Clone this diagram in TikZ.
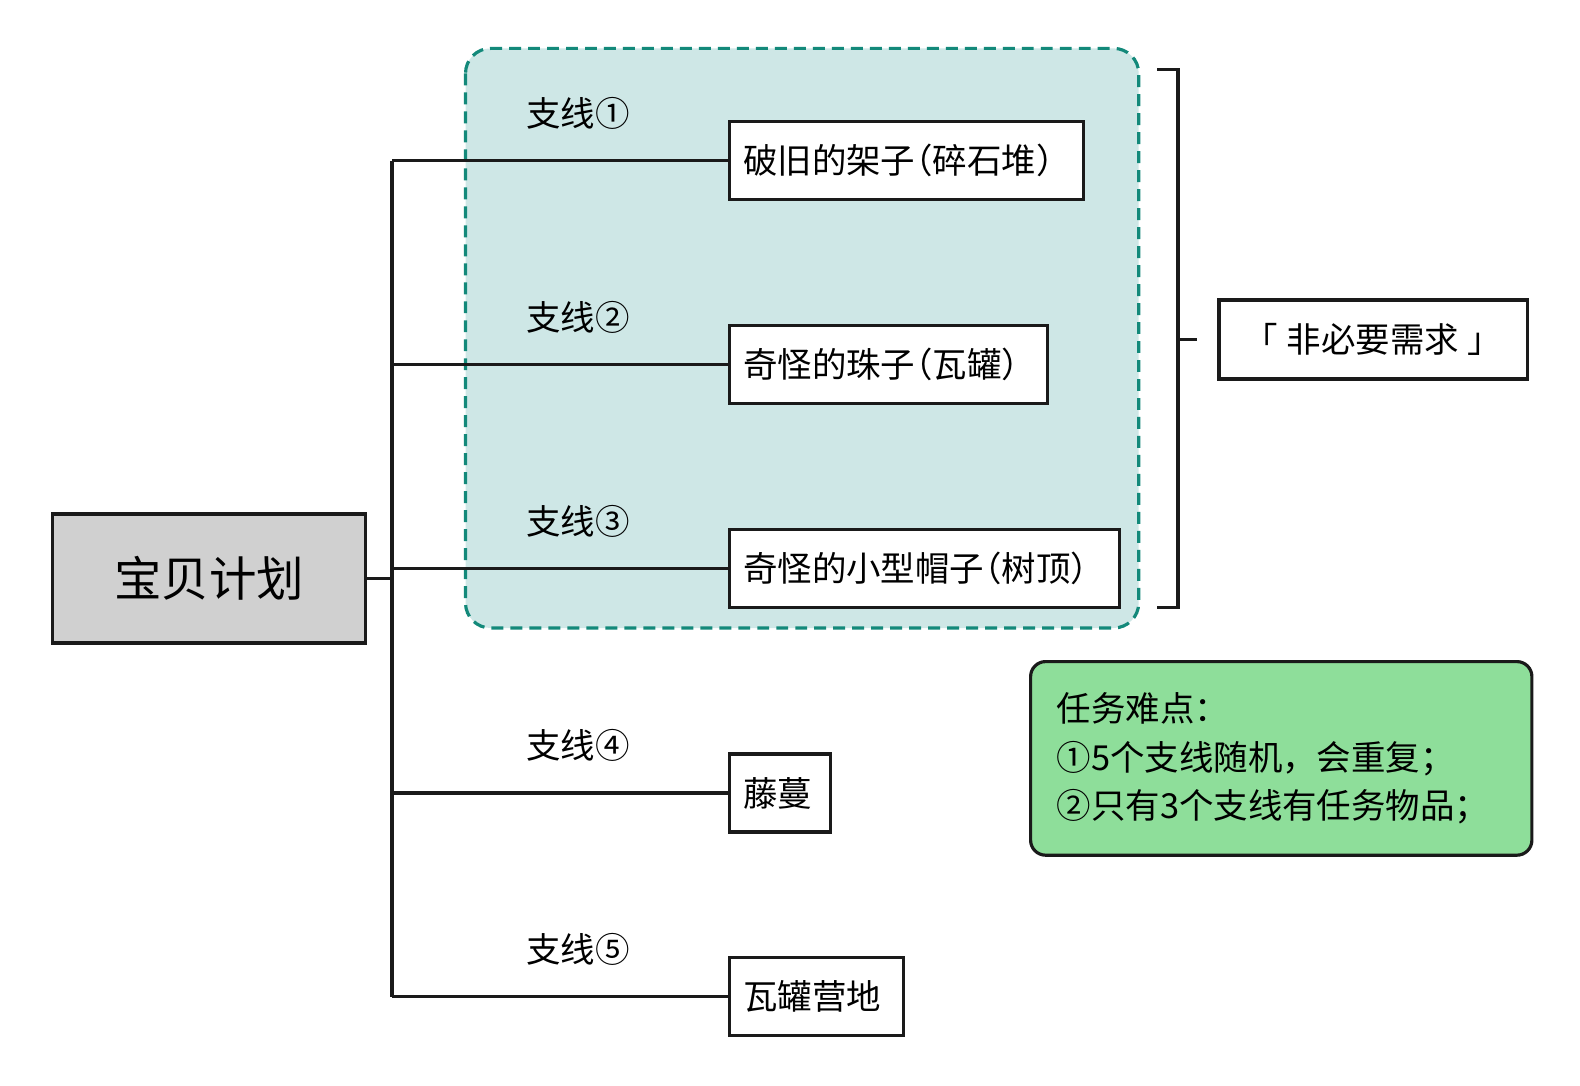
\documentclass[tikz,border=0pt]{standalone}
\usepackage{fontspec}
\setmainfont{Noto Sans CJK SC}
\newfontfamily\leaffont[RawFeature=+halt]{Noto Sans CJK SC}
\definecolor{tealline}{HTML}{13897A}
\definecolor{tealfill}{HTML}{CEE7E6}
\definecolor{notegreen}{HTML}{8EDE9A}
\definecolor{rootgray}{HTML}{D0D0D0}
\definecolor{inkblack}{HTML}{1A1A1A}

\tikzset{
  link/.style={draw=inkblack, line width=0.9pt},
  leafbox/.style={draw=inkblack, line width=0.9pt, fill=white, anchor=west, align=left,
    minimum height=0.78cm, inner xsep=0.14cm, font=\leaffont\fontsize{9.8}{12}\selectfont},
  branchlabel/.style={font=\fontsize{9.8}{12}\selectfont},
}

\begin{document}
\begin{tikzpicture}[x=0.01cm, y=-0.01cm]
  \useasboundingbox (0,0) rectangle (1580,1086);
  % optional branches
  \draw[tealline, fill=tealfill, line width=0.9pt, dash pattern=on 3.4pt off 2pt,
    rounded corners=0.25cm] (465.5,48.4) rectangle (1138.7,628);
  % root
  \node[draw=inkblack, fill=rootgray, line width=0.9pt, minimum width=3.134cm,
    minimum height=1.29cm, font=\fontsize{13.5}{16}\selectfont] (root) at (209,578.5) {宝贝计划};
  % leaves
  \node[leafbox, text width=3.265cm] (leafa) at (727.5,160.8) {破旧的架子（碎石堆）};
  \node[leafbox, text width=2.905cm] (leafb) at (727.5,364.8) {奇怪的珠子（瓦罐）};
  \node[leafbox, text width=3.62cm] (leafc) at (727.5,568.3) {奇怪的小型帽子（树顶）};
  \node[leafbox, text width=0.735cm] (leafd) at (727.5,793) {藤蔓};
  \node[leafbox, text width=1.465cm] (leafe) at (727.5,996.5) {瓦罐营地};
  % branch labels
  \node[branchlabel] (laba) at (578,113) {支线①};
  \node[branchlabel] (labb) at (578,317.5) {支线②};
  \node[branchlabel] (labc) at (578,521) {支线③};
  \node[branchlabel] (labd) at (578,745.7) {支线④};
  \node[branchlabel] (labe) at (578,949) {支线⑤};
  % trunk
  \coordinate (trunktop) at (392,160.8);
  \coordinate (trunkbot) at (392,996.5);
  \draw[link] (trunktop) -- (trunkbot);
  \draw[link] (root.east) -- (root.east -| trunktop);
  \foreach \leaf in {leafa,leafb,leafc,leafd,leafe}
    \draw[link] (\leaf.west -| trunktop) -- (\leaf.west);
  % bracket
  \node[draw=inkblack, line width=0.9pt, minimum width=3.08cm, minimum height=0.79cm,
    inner xsep=0pt, font=\fontsize{9.8}{12}\selectfont] (need) at (1373,339.5)
    {「\kern0.25em 非必要需求\kern0.25em 」};
  \coordinate (brtop) at (1157,69.5);
  \coordinate (brbot) at (1157,607.6);
  \coordinate (brmid) at (1178,339.5);
  \draw[link] (brtop) -- (brtop -| brmid) -- (brbot -| brmid) -- (brbot);
  \draw[link] (brmid) -- ([xshift=-0.2cm]need.west);
  % note
  \node[draw=inkblack, fill=notegreen, line width=0.9pt, rounded corners=0.15cm,
    anchor=north west, minimum width=5.01cm, minimum height=1.935cm, text width=4.49cm,
    inner xsep=0.26cm, align=left, font=\fontsize{9.8}{13.8}\selectfont] (note) at (1029,660)
    {任务难点：\\①5个支线随机，会重复；\\②只有3个支线有任务物品；};
\end{tikzpicture}
\end{document}
